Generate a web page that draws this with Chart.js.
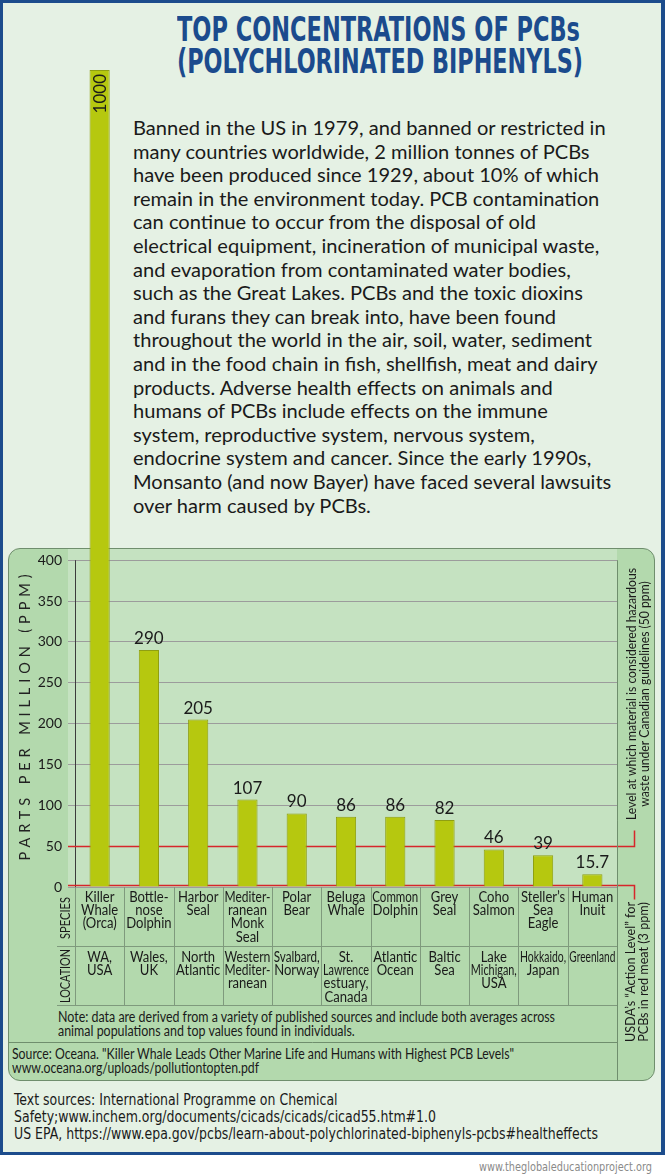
<!DOCTYPE html>
<html>
<head>
<meta charset="utf-8">
<title>Top concentrations of PCBs</title>
<script src="https://cdn.jsdelivr.net/npm/chart.js@4.4.1/dist/chart.umd.min.js"></script>
<style>
  body { margin: 0; width: 665px; height: 1176px; position: relative; overflow: hidden; background: #ffffff; font-family: Lato, "Open Sans", sans-serif; color: #1a1a1a; }
  .abs { position: absolute; }
  .line { position: absolute; left: 0; white-space: nowrap; transform-origin: 0 50%; }
  .narrow { font-family: "Liberation Sans Narrow", "DejaVu Sans Condensed", sans-serif; }
  #frame { left: 0; top: 0; width: 658px; height: 1149px; border: 3px solid #1c4c8c; border-right-width: 4px; background: #e5f1e4; }
  #panel { left: 8px; top: 548px; width: 645px; height: 531px; background: #b3d9ad; border: 1px solid #6f8e6d; border-radius: 12px; }
  #plotbg { left: 68px; top: 549px; width: 549px; height: 338px; background: #c5e2c1; }
  .title { font-weight: bold; font-size: 33px; line-height: 36px; color: #1b4b8d; }
  #para div { font-size: 20px; line-height: 23.6px; }
  #chart { position: absolute; left: 0; top: 0; }
</style>
</head>
<body>
<div id="frame" class="abs"></div>
<div id="panel" class="abs"></div>
<div id="plotbg" class="abs"></div>

<div id="t1" class="line narrow title" style="top:12px">TOP CONCENTRATIONS OF PCBs</div>
<div id="t2" class="line narrow title" style="top:44px">(POLYCHLORINATED BIPHENYLS)</div>

<div id="para" class="abs" style="left:133px; top:116px;">
  <div class="line" style="top:0px">Banned in the US in 1979, and banned or restricted in</div>
  <div class="line" style="top:23.6px">many countries worldwide, 2 million tonnes of PCBs</div>
  <div class="line" style="top:47.2px">have been produced since 1929, about 10% of which</div>
  <div class="line" style="top:70.8px">remain in the environment today. PCB contamination</div>
  <div class="line" style="top:94.4px">can continue to occur from the disposal of old</div>
  <div class="line" style="top:118px">electrical equipment, incineration of municipal waste,</div>
  <div class="line" style="top:141.6px">and evaporation from contaminated water bodies,</div>
  <div class="line" style="top:165.2px">such as the Great Lakes. PCBs and the toxic dioxins</div>
  <div class="line" style="top:188.8px">and furans they can break into, have been found</div>
  <div class="line" style="top:212.4px">throughout the world in the air, soil, water, sediment</div>
  <div class="line" style="top:236px">and in the food chain in fish, shellfish, meat and dairy</div>
  <div class="line" style="top:259.6px">products. Adverse health effects on animals and</div>
  <div class="line" style="top:283.2px">humans of PCBs include effects on the immune</div>
  <div class="line" style="top:306.8px">system, reproductive system, nervous system,</div>
  <div class="line" style="top:330.4px">endocrine system and cancer. Since the early 1990s,</div>
  <div class="line" style="top:354px">Monsanto (and now Bayer) have faced several lawsuits</div>
  <div class="line" style="top:377.6px">over harm caused by PCBs.</div>
</div>

<div id="note1" class="line" style="top:1010px; font-size:14.5px; line-height:14px">Note: data are derived from a variety of published sources and include both averages across</div>
<div id="note2" class="line" style="top:1024px; font-size:14.5px; line-height:14px">animal populations and top values found in individuals.</div>
<div id="src1" class="line" style="top:1047px; font-size:14.5px; line-height:13.5px">Source: Oceana. "Killer Whale Leads Other Marine Life and Humans with Highest PCB Levels"</div>
<div id="src2" class="line" style="top:1060.5px; font-size:14.5px; line-height:13.5px">www.oceana.org/uploads/pollutiontopten.pdf</div>

<div id="f1" class="line narrow" style="top:1092px; font-size:15px; line-height:17px">Text sources: International Programme on Chemical</div>
<div id="f2" class="line narrow" style="top:1109px; font-size:15px; line-height:17px">Safety;www.inchem.org/documents/cicads/cicads/cicad55.htm#1.0</div>
<div id="f3" class="line narrow" style="top:1126px; font-size:15px; line-height:17px">US EPA, https://www.epa.gov/pcbs/learn-about-polychlorinated-biphenyls-pcbs#healtheffects</div>
<div id="wm" class="line narrow" style="top:1160px; font-size:13px; line-height:13px; color:#8a8a8a">www.theglobaleducationproject.org</div>

<canvas id="chart" width="665" height="1176"></canvas>

<script>
// chart data
const speciesLabels = [
  ['Killer', 'Whale', '(Orca)'],
  ['Bottle-', 'nose', 'Dolphin'],
  ['Harbor', 'Seal'],
  ['Mediter-', 'ranean', 'Monk', 'Seal'],
  ['Polar', 'Bear'],
  ['Beluga', 'Whale'],
  ['Common', 'Dolphin'],
  ['Grey', 'Seal'],
  ['Coho', 'Salmon'],
  ['Steller’s', 'Sea', 'Eagle'],
  ['Human', 'Inuit']
];
const locationLabels = [
  ['WA,', 'USA'],
  ['Wales,', 'UK'],
  ['North', 'Atlantic'],
  ['Western', 'Mediter-', 'ranean'],
  ['Svalbard,', 'Norway'],
  ['St.', 'Lawrence', 'estuary,', 'Canada'],
  ['Atlantic', 'Ocean'],
  ['Baltic', 'Sea'],
  ['Lake', 'Michigan,', 'USA'],
  ['Hokkaido,', 'Japan'],
  ['Greenland']
];
const ppmValues = [1000, 290, 205, 107, 90, 86, 86, 82, 46, 39, 15.7];
const yTicksTop = 400;
const yTickStep = 50;
const hazardLevel = 50;   // Canadian hazardous waste level
const actionLevel = 3;    // USDA action level

const narrowFont = "'Liberation Sans Narrow', 'DejaVu Sans Condensed', sans-serif";

// stretch/squeeze an html line to a measured width
function fit(id, left, width) {
  const el = document.getElementById(id);
  const natural = el.getBoundingClientRect().width;
  el.style.left = left + 'px';
  el.style.transform = 'scaleX(' + (width / natural) + ')';
}
function widthOf(id) {
  return document.getElementById(id).getBoundingClientRect().width;
}

fit('t1', 177, 403);
fit('t2', 177, 406);
fit('note2', 58, 497 * widthOf('note2') / widthOf('note1'));
fit('note1', 58, 497);
fit('src2', 12, 502 * widthOf('src2') / widthOf('src1'));
fit('src1', 12, 502);

const fr = 584 / widthOf('f3');
['f1', 'f2', 'f3'].forEach(function (id) {
  fit(id, 14, widthOf(id) * fr);
});
fit('wm', 479, 173);

// paragraph: pick font size so the first line is as wide as in the picture
const paraLines = document.querySelectorAll('#para div');
const paraSize = 20 * 473 / paraLines[0].getBoundingClientRect().width;
paraLines.forEach(function (d) { d.style.fontSize = paraSize + 'px'; });

function rotatedText(ctx, lines, cx, cy, gap, font, targetLen) {
  ctx.save();
  ctx.font = font;
  const k = targetLen ? targetLen / ctx.measureText(lines[0]).width : 1;
  ctx.translate(cx, cy);
  ctx.rotate(-Math.PI / 2);
  ctx.scale(k, 1);
  ctx.textAlign = 'center';
  ctx.textBaseline = 'middle';
  lines.forEach(function (t, i) { ctx.fillText(t, 0, i * gap); });
  ctx.restore();
}

// table cell text, squeezed like the condensed face in the original
function cellText(ctx, lines, x, y0) {
  lines.forEach(function (t, j) {
    const w = ctx.measureText(t).width;
    const k = Math.min(0.9, 46 / w);
    ctx.save();
    ctx.translate(x, y0 + j * 13.4);
    ctx.scale(k, 1);
    ctx.fillText(t, 0, 0);
    ctx.restore();
  });
}

function hline(ctx, x1, x2, y) {
  ctx.beginPath(); ctx.moveTo(x1, y); ctx.lineTo(x2, y); ctx.stroke();
}
function vline(ctx, x, y1, y2) {
  ctx.beginPath(); ctx.moveTo(x, y1); ctx.lineTo(x, y2); ctx.stroke();
}

const decorations = {
  id: 'decorations',
  beforeDatasetsDraw(chart) {
    const ctx = chart.ctx;
    const a = chart.chartArea;
    const y = chart.scales.y;
    ctx.save();
    ctx.lineWidth = 1;
    ctx.strokeStyle = '#3c3c3c';
    vline(ctx, a.left + 0.5, y.getPixelForValue(yTicksTop), y.getPixelForValue(0));

    ctx.strokeStyle = '#d7262b';
    ctx.lineWidth = 1.5;
    const yh = Math.round(y.getPixelForValue(hazardLevel)) + 0.5;
    ctx.beginPath(); ctx.moveTo(a.left - 7, yh); ctx.lineTo(634.5, yh); ctx.lineTo(634.5, yh - 16); ctx.stroke();
    const ya = Math.round(y.getPixelForValue(actionLevel)) + 0.5;
    ctx.beginPath(); ctx.moveTo(a.left - 7, ya); ctx.lineTo(634.5, ya); ctx.lineTo(634.5, ya + 14); ctx.stroke();
    ctx.restore();
  },
  afterDraw(chart) {
    const ctx = chart.ctx;
    const a = chart.chartArea;
    const xs = chart.scales.x;
    const ys = chart.scales.y;
    const step = xs.width / speciesLabels.length;
    ctx.save();

    // table grid
    ctx.strokeStyle = '#7f9a7d';
    ctx.lineWidth = 1;
    for (let k = 0; k < speciesLabels.length; k++) {
      vline(ctx, Math.round(xs.left + k * step) + 0.5, a.bottom, 1005);
    }
    hline(ctx, 57, a.right, 946.5);
    hline(ctx, 57, a.right, 1005.5);
    ctx.strokeStyle = '#6f8e6d';
    vline(ctx, a.right + 0.5, ys.getPixelForValue(yTicksTop), 1080);
    hline(ctx, 8, a.right, 1042.5);

    // species and location rows
    ctx.fillStyle = '#1a1a1a';
    ctx.font = '14.5px Lato';
    ctx.textAlign = 'center';
    ctx.textBaseline = 'middle';
    speciesLabels.forEach(function (lines, i) {
      cellText(ctx, lines, xs.getPixelForValue(i), 897);
    });
    locationLabels.forEach(function (lines, i) {
      cellText(ctx, lines, xs.getPixelForValue(i), 957);
    });

    // value labels
    const bars = chart.getDatasetMeta(0).data;
    ctx.font = '17px Lato';
    ppmValues.forEach(function (v, i) {
      const b = bars[i];
      if (i === 0) {
        ctx.save();
        ctx.translate(b.x, b.y + 4);
        ctx.rotate(-Math.PI / 2);
        ctx.textAlign = 'right';
        ctx.textBaseline = 'middle';
        ctx.fillText(String(v), 0, 1);
        ctx.restore();
      } else {
        ctx.textAlign = 'center';
        ctx.textBaseline = 'alphabetic';
        ctx.fillText(String(v), b.x, b.y - 6);
      }
    });

    // axis title
    ctx.save();
    const yTitle = 'PARTS PER MILLION (PPM)';
    ctx.font = '14.5px Lato';
    ctx.fillStyle = '#222';
    const w0 = ctx.measureText(yTitle).width;
    ctx.letterSpacing = ((286 - w0) / (yTitle.length - 1)) + 'px';
    ctx.translate(25, 715);
    ctx.rotate(-Math.PI / 2);
    ctx.textAlign = 'center';
    ctx.textBaseline = 'middle';
    ctx.fillText(yTitle, 0, 0);
    ctx.restore();

    ctx.fillStyle = '#1a1a1a';
    rotatedText(ctx, ['SPECIES'], 66, 918, 0, '13px Lato', 42);
    rotatedText(ctx, ['LOCATION'], 66, 976, 0, '13px Lato', 54);
    rotatedText(ctx, ['Level at which material is considered hazardous', 'waste under Canadian guidelines (50 ppm)'], 632, 694, 13, '13.5px Lato', 252);
    rotatedText(ctx, ['USDA’s “Action Level” for', 'PCBs in red meat (3 ppm)'], 631, 972, 13, '13.5px Lato', 140);
    ctx.restore();
  }
};

new Chart(document.getElementById('chart'), {
  type: 'bar',
  data: {
    labels: speciesLabels,
    datasets: [{
      data: ppmValues,
      backgroundColor: '#b6c80f',
      borderColor: '#8f9f12',
      borderWidth: 1,
      barPercentage: 0.41,
      categoryPercentage: 1
    }]
  },
  options: {
    responsive: false,
    animation: false,
    devicePixelRatio: 1,
    layout: { padding: { top: 70, right: 48, left: 0, bottom: 0 } },
    plugins: { legend: { display: false }, tooltip: { enabled: false } },
    scales: {
      x: {
        grid: { display: false, drawTicks: false },
        border: { display: false },
        ticks: { display: false },
        afterFit(s) { s.height = 289; }
      },
      y: {
        min: 0,
        max: 1000,
        grid: { color: '#9c9c9c', tickLength: 7, lineWidth: 1 },
        border: { display: false },
        ticks: { stepSize: yTickStep, padding: 6, color: '#1a1a1a', font: { family: 'Lato', size: 14 } },
        afterBuildTicks(s) { s.ticks = s.ticks.filter(function (t) { return t.value <= yTicksTop; }); },
        afterFit(s) { s.width = 75; }
      }
    }
  },
  plugins: [decorations]
});
</script>
</body>
</html>
